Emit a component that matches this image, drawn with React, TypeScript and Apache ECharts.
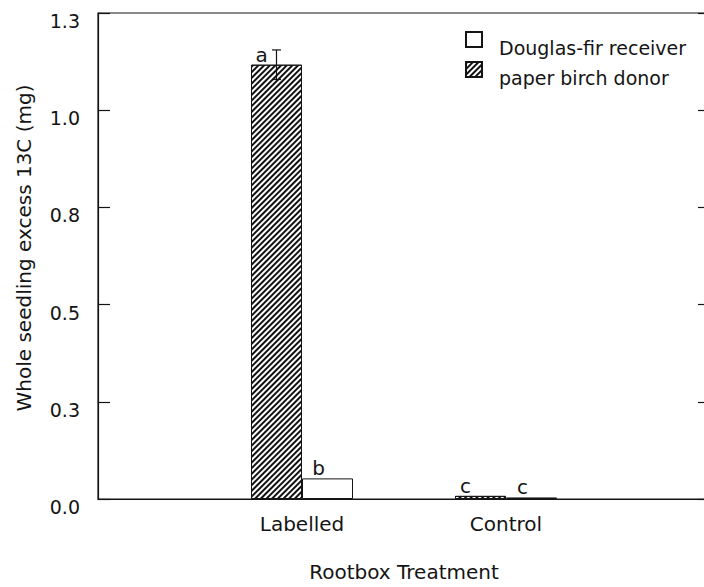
import React, { useEffect, useRef } from "react";
import * as echarts from "echarts";

// Rootbox treatments and whole-seedling excess 13C (mg)
const categories = ["Labelled", "Control"];
const birchDonor = [1.117, 0.008];
const birchErr = [0.038, 0];
const firReceiver = [0.053, 0.004];
const birchLetters = ["a", "c"];
const firLetters = ["b", "c"];
const yTicks = [0, 0.25, 0.5, 0.75, 1.0, 1.25];
const yTickLabels = ["0.0", "0.3", "0.5", "0.8", "1.0", "1.3"];
const yTitle = "Whole seedling excess 13C (mg)";
const xTitle = "Rootbox Treatment";

const FONT = "DejaVu Sans";
const INK = "#141414";
const BAR_W = 51;

const hatch = {
  symbol: "rect",
  symbolSize: 1,
  dashArrayX: [1, 0],
  dashArrayY: [1.3, 1.2],
  rotation: -Math.PI / 4,
  color: "#111",
};

export default function App() {
  const ref = useRef<HTMLDivElement>(null);

  useEffect(() => {
    if (!ref.current) return;
    const chart = echarts.init(ref.current, null, { renderer: "svg" });

    const axisCats = ["", ...categories, ""];
    const pad = (arr: number[]) => ["-", ...arr, "-"];

    const tickLabel = (v: number) => {
      const i = yTicks.findIndex((t) => Math.abs(t - v) < 1e-9);
      return i >= 0 ? yTickLabels[i] : "";
    };

    const errData = categories.map((_, i) => [i + 1, birchDonor[i], birchErr[i]]);

    const legendItem = (name: string, top: number) => ({
      orient: "vertical",
      left: 460,
      top,
      itemWidth: 16,
      itemHeight: 15,
      icon: "rect",
      data: [name],
      formatter: "{t|{name}}",
      textStyle: {
        rich: {
          t: {
            fontFamily: FONT,
            fontSize: 19,
            color: INK,
            padding: [17, 0, 0, 12],
          },
        },
      },
    });

    const option: any = {
      animation: false,
      backgroundColor: "#fff",
      textStyle: { fontFamily: FONT, color: INK },
      grid: {
        left: 98,
        right: -6,
        top: 13,
        bottom: 88,
        show: true,
        borderColor: INK,
        borderWidth: 1.2,
        outerBoundsMode: "none",
      },
      legend: [
        legendItem("Douglas-fir receiver", 26),
        legendItem("paper birch donor", 56),
      ],
      graphic: [
        {
          type: "text",
          x: 24,
          y: 248,
          rotation: Math.PI / 2,
          style: {
            text: yTitle,
            align: "center",
            verticalAlign: "middle",
            fontFamily: FONT,
            fontSize: 20,
            fill: INK,
          },
        },
      ],
      xAxis: {
        type: "category",
        data: axisCats,
        boundaryGap: false,
        axisLine: { lineStyle: { color: INK, width: 1.2 } },
        axisTick: { show: false },
        axisLabel: {
          interval: 0,
          fontFamily: FONT,
          fontSize: 20,
          color: INK,
          margin: 15,
        },
        name: xTitle,
        nameLocation: "middle",
        nameGap: 63,
        nameTextStyle: { fontFamily: FONT, fontSize: 20, color: INK },
      },
      yAxis: [
        {
          type: "value",
          min: 0,
          max: 1.25,
          interval: 0.25,
          axisLine: { show: true, lineStyle: { color: INK, width: 1.2 } },
          axisTick: { show: true, inside: true, length: 12, lineStyle: { color: INK, width: 1.2 } },
          splitLine: { show: false },
          axisLabel: {
            formatter: tickLabel,
            fontFamily: FONT,
            fontSize: 19,
            color: INK,
            margin: 18,
            verticalAlign: "top",
            lineHeight: 16,
          },
        },
        {
          type: "value",
          position: "right",
          min: 0,
          max: 1.25,
          interval: 0.25,
          axisLine: { show: true, lineStyle: { color: INK, width: 1.2 } },
          axisTick: { show: true, inside: true, length: 12, lineStyle: { color: INK, width: 1.2 } },
          splitLine: { show: false },
          axisLabel: { show: false },
        },
      ],
      series: [
        {
          name: "paper birch donor",
          type: "bar",
          data: pad(birchDonor),
          barWidth: BAR_W,
          barGap: "0%",
          itemStyle: {
            color: "#fff",
            borderColor: INK,
            borderWidth: 1,
            decal: hatch,
          },
          label: {
            show: true,
            position: "top",
            distance: 0,
            offset: [-15, 0],
            formatter: (p: any) => birchLetters[p.dataIndex - 1] ?? "",
            fontFamily: FONT,
            fontSize: 20,
            color: INK,
          },
        },
        {
          name: "Douglas-fir receiver",
          type: "bar",
          data: pad(firReceiver),
          barWidth: BAR_W,
          barGap: "0%",
          itemStyle: { color: "#fff", borderColor: INK, borderWidth: 1 },
          label: {
            show: true,
            position: "top",
            distance: 0,
            offset: [-9, 0],
            formatter: (p: any) => firLetters[p.dataIndex - 1] ?? "",
            fontFamily: FONT,
            fontSize: 20,
            color: INK,
          },
        },
        {
          name: "error",
          type: "custom",
          z: 10,
          data: errData,
          renderItem: (params: any, api: any) => {
            const x = api.value(0);
            const y = api.value(1);
            const e = api.value(2);
            if (!e) return null;
            const top = api.coord([x, y + e]);
            const bot = api.coord([x, y - e]);
            const cx = top[0] - BAR_W / 2;
            const cap = 4.5;
            const style = { stroke: INK, lineWidth: 1.2 };
            return {
              type: "group",
              children: [
                { type: "line", shape: { x1: cx, y1: top[1], x2: cx, y2: bot[1] }, style },
                { type: "line", shape: { x1: cx - cap, y1: top[1], x2: cx + cap, y2: top[1] }, style },
                { type: "line", shape: { x1: cx - cap, y1: bot[1], x2: cx + cap, y2: bot[1] }, style },
              ],
            };
          },
        },
      ],
    };

    chart.setOption(option);
    return () => chart.dispose();
  }, []);

  return (
    <div
      ref={ref}
      style={{ position: "absolute", left: 0, top: 0, width: 704, height: 587 }}
    />
  );
}
